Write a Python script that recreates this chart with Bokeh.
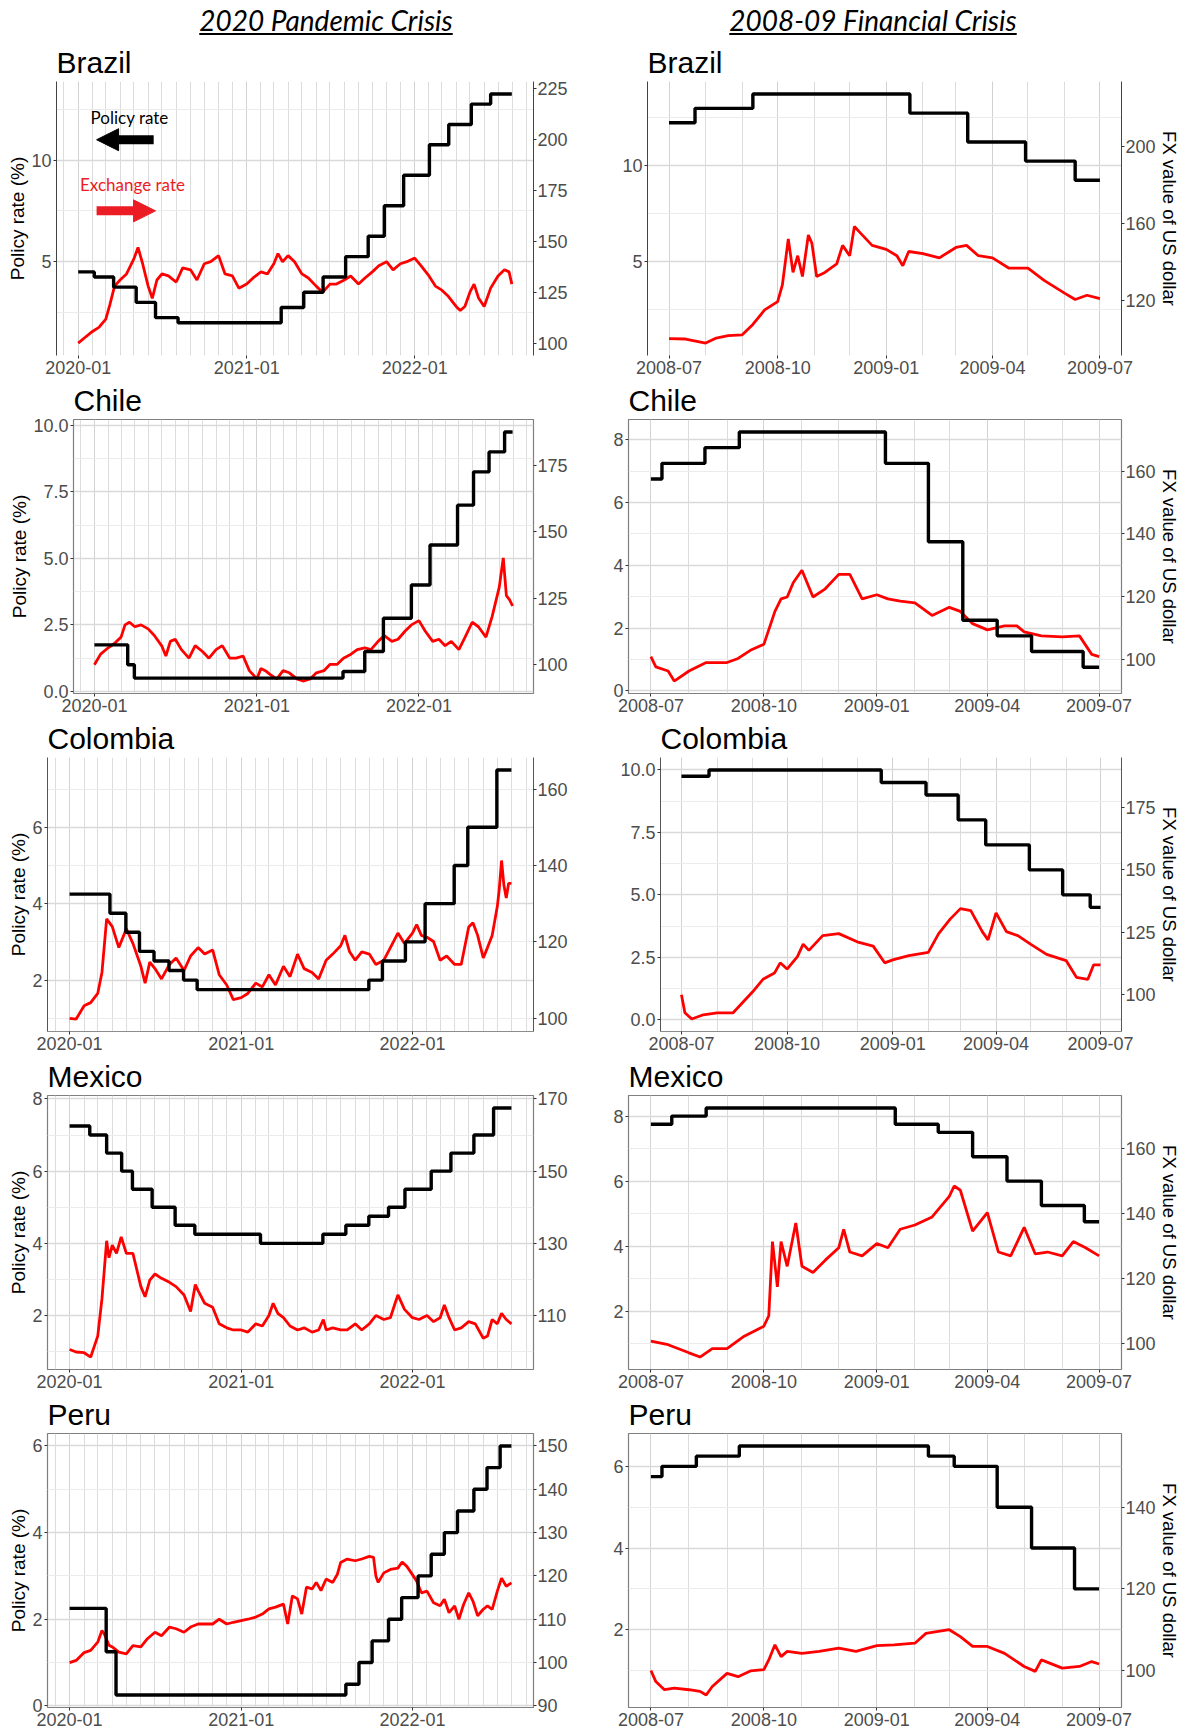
import pandas as pd
from bokeh.plotting import figure
from bokeh.models import (Range1d, LinearAxis, FixedTicker, DatetimeTickFormatter,
                          NumeralTickFormatter, Arrow, NormalHead, Label, Div)
from bokeh.layouts import column, row
from bokeh.embed import file_html
from bokeh.resources import INLINE

# secondary axis: FX index = FX_PER_RATE * policy rate + FX_OFFSET
FX_PER_RATE = 10.0
FX_OFFSET = 90.0

# ======================= 2020 pandemic crisis =======================
brazil_p_pol_dates = ["2020-01-01", "2020-02-05", "2020-03-18", "2020-05-06", "2020-06-17", "2020-08-05",
                      "2021-03-17", "2021-05-05", "2021-06-16", "2021-08-04", "2021-09-22", "2021-10-27",
                      "2021-12-08", "2022-02-02", "2022-03-16", "2022-05-04", "2022-06-15", "2022-07-31"]
brazil_p_pol = [4.5, 4.25, 3.75, 3.0, 2.25, 2.0, 2.75, 3.5, 4.25, 5.25, 6.25, 7.75, 9.25, 10.75, 11.75,
                12.75, 13.25, 13.25]
brazil_p_fx_dates = ["2020-01-01", "2020-01-15", "2020-02-01", "2020-02-15", "2020-03-01", "2020-03-10",
                     "2020-03-20", "2020-04-01", "2020-04-15", "2020-05-01", "2020-05-10", "2020-05-20",
                     "2020-06-01", "2020-06-10", "2020-06-20", "2020-07-01", "2020-07-15", "2020-08-01",
                     "2020-08-15", "2020-09-01", "2020-09-15", "2020-10-01", "2020-10-15", "2020-11-01",
                     "2020-11-15", "2020-12-01", "2020-12-15", "2021-01-01", "2021-01-15", "2021-02-01",
                     "2021-02-15", "2021-03-01", "2021-03-10", "2021-03-20", "2021-04-01", "2021-04-15",
                     "2021-05-01", "2021-05-15", "2021-06-01", "2021-06-15", "2021-07-01", "2021-07-15",
                     "2021-08-01", "2021-08-15", "2021-09-01", "2021-09-15", "2021-10-01", "2021-10-15",
                     "2021-11-01", "2021-11-15", "2021-12-01", "2021-12-15", "2022-01-01", "2022-01-15",
                     "2022-02-01", "2022-02-15", "2022-03-01", "2022-03-15", "2022-04-01", "2022-04-10",
                     "2022-04-20", "2022-05-01", "2022-05-10", "2022-05-20", "2022-06-01", "2022-06-15",
                     "2022-07-01", "2022-07-15", "2022-07-25", "2022-07-31"]
brazil_p_fx = [100, 102.6, 105.7, 107.7, 111.8, 119, 128, 131, 134, 141.4, 147, 139, 128, 122, 131, 134, 133,
               130, 137, 136, 131, 139, 140, 143, 134, 133, 127, 129, 132, 135, 134, 139, 144, 140, 143, 140,
               134, 132, 128, 125, 129, 129, 131, 133, 129, 132, 135, 138, 140, 136, 139, 140, 141.8, 138,
               133, 128, 126, 123, 118, 116, 118, 125, 129, 122, 118, 127, 133, 136, 135, 129]

chile_p_pol_dates = ["2020-01-01", "2020-03-16", "2020-03-31", "2021-07-14", "2021-09-01", "2021-10-13",
                     "2021-12-15", "2022-01-26", "2022-03-29", "2022-05-04", "2022-06-08", "2022-07-13",
                     "2022-07-31"]
chile_p_pol = [1.75, 1.0, 0.5, 0.75, 1.5, 2.75, 4.0, 5.5, 7.0, 8.25, 9.0, 9.75, 9.75]
chile_p_fx_dates = ["2020-01-01", "2020-01-15", "2020-02-01", "2020-02-15", "2020-03-01", "2020-03-10",
                    "2020-03-20", "2020-04-01", "2020-04-15", "2020-05-01", "2020-05-15", "2020-06-01",
                    "2020-06-10", "2020-06-20", "2020-07-01", "2020-07-15", "2020-08-01", "2020-08-15",
                    "2020-09-01", "2020-09-15", "2020-10-01", "2020-10-15", "2020-11-01", "2020-11-15",
                    "2020-12-01", "2020-12-15", "2021-01-01", "2021-01-10", "2021-01-20", "2021-02-01",
                    "2021-02-15", "2021-03-01", "2021-03-15", "2021-04-01", "2021-04-15", "2021-05-01",
                    "2021-05-15", "2021-06-01", "2021-06-15", "2021-07-01", "2021-07-15", "2021-08-01",
                    "2021-08-15", "2021-09-01", "2021-09-15", "2021-10-01", "2021-10-15", "2021-11-01",
                    "2021-11-15", "2021-12-01", "2021-12-15", "2022-01-01", "2022-01-15", "2022-02-01",
                    "2022-02-15", "2022-03-01", "2022-03-15", "2022-04-01", "2022-04-15", "2022-05-01",
                    "2022-05-15", "2022-06-01", "2022-06-15", "2022-07-01", "2022-07-10", "2022-07-17",
                    "2022-07-24", "2022-07-31"]
chile_p_fx = [100, 104, 106.4, 108, 110.4, 115, 116, 114.3, 115, 113.5, 111, 107, 103.3, 108.8, 109.6, 105.7,
              102.5, 107.2, 104.9, 102.5, 105.7, 107.2, 102.5, 102.5, 103.3, 97.8, 94.7, 98.6, 97.8, 96.2,
              94.7, 97.8, 97.0, 94.7, 93.9, 94.7, 97.0, 97.8, 100.2, 100.2, 102.5, 104, 105.7, 106.4, 105.7,
              108.8, 111, 108.8, 109.6, 112.7, 115, 116.6, 112.7, 108.8, 109.6, 107.2, 108.8, 105.7, 110.4,
              116, 114.3, 110.4, 118.2, 129.2, 140.2, 126, 124.5, 122.1]

colombia_p_pol_dates = ["2020-01-01", "2020-03-27", "2020-04-30", "2020-05-29", "2020-06-29", "2020-07-31",
                        "2020-08-31", "2020-09-29", "2021-09-30", "2021-10-29", "2021-12-17", "2022-01-28",
                        "2022-03-31", "2022-04-29", "2022-06-30", "2022-07-31"]
colombia_p_pol = [4.25, 3.75, 3.25, 2.75, 2.5, 2.25, 2.0, 1.75, 2.0, 2.5, 3.0, 4.0, 5.0, 6.0, 7.5, 7.5]
colombia_p_fx_dates = ["2020-01-01", "2020-01-15", "2020-02-01", "2020-02-15", "2020-03-01", "2020-03-10",
                       "2020-03-20", "2020-04-01", "2020-04-15", "2020-05-01", "2020-05-15", "2020-06-01",
                       "2020-06-10", "2020-06-20", "2020-07-01", "2020-07-15", "2020-08-01", "2020-08-15",
                       "2020-09-01", "2020-09-15", "2020-10-01", "2020-10-15", "2020-11-01", "2020-11-15",
                       "2020-12-01", "2020-12-15", "2021-01-01", "2021-01-15", "2021-02-01", "2021-02-15",
                       "2021-03-01", "2021-03-15", "2021-04-01", "2021-04-15", "2021-05-01", "2021-05-15",
                       "2021-06-01", "2021-06-15", "2021-07-01", "2021-07-15", "2021-08-01", "2021-08-10",
                       "2021-08-20", "2021-09-01", "2021-09-15", "2021-10-01", "2021-10-15", "2021-11-01",
                       "2021-11-15", "2021-12-01", "2021-12-15", "2022-01-01", "2022-01-10", "2022-01-20",
                       "2022-02-01", "2022-02-15", "2022-03-01", "2022-03-15", "2022-04-01", "2022-04-15",
                       "2022-05-01", "2022-05-10", "2022-05-20", "2022-06-01", "2022-06-10", "2022-06-20",
                       "2022-07-01", "2022-07-05", "2022-07-10", "2022-07-15", "2022-07-20", "2022-07-25",
                       "2022-07-31"]
colombia_p_fx = [100, 99.8, 103.3, 104.1, 106.5, 112, 126, 124, 118.5, 123.4, 119.6, 113.6, 109.2, 114.7, 113,
                 110.3, 114.1, 115.8, 112.5, 116.3, 118.5, 116.8, 117.9, 111.4, 108.7, 104.9, 105.4, 106.5,
                 109.2, 108.2, 111.4, 108.7, 113.6, 110.9, 116.8, 113, 112, 110.3, 115.2, 116.8, 119, 121.7,
                 117.4, 115.2, 117.4, 116.8, 114.1, 115.2, 118.5, 122.3, 119.6, 122.3, 124.5, 121.7, 121.2,
                 120.1, 115.2, 116.3, 114.1, 114.1, 123.9, 125, 121.7, 115.8, 118.5, 121.7, 129.3, 133.7,
                 141.3, 134.8, 131.5, 135.3, 135.3]

mexico_p_pol_dates = ["2020-01-01", "2020-02-13", "2020-03-20", "2020-04-21", "2020-05-14", "2020-06-25",
                      "2020-08-13", "2020-09-24", "2021-02-11", "2021-06-24", "2021-08-12", "2021-09-30",
                      "2021-11-11", "2021-12-16", "2022-02-10", "2022-03-24", "2022-05-12", "2022-06-23",
                      "2022-07-31"]
mexico_p_pol = [7.25, 7.0, 6.5, 6.0, 5.5, 5.0, 4.5, 4.25, 4.0, 4.25, 4.5, 4.75, 5.0, 5.5, 6.0, 6.5, 7.0, 7.75,
                7.75]
mexico_p_fx_dates = ["2020-01-01", "2020-01-15", "2020-02-01", "2020-02-15", "2020-03-01", "2020-03-10",
                     "2020-03-20", "2020-03-25", "2020-04-01", "2020-04-10", "2020-04-20", "2020-05-01",
                     "2020-05-15", "2020-06-01", "2020-06-10", "2020-06-20", "2020-07-01", "2020-07-15",
                     "2020-08-01", "2020-08-15", "2020-09-01", "2020-09-15", "2020-09-25", "2020-10-01",
                     "2020-10-15", "2020-11-01", "2020-11-15", "2020-12-01", "2020-12-15", "2021-01-01",
                     "2021-01-15", "2021-02-01", "2021-02-15", "2021-03-01", "2021-03-10", "2021-03-20",
                     "2021-04-01", "2021-04-15", "2021-05-01", "2021-05-15", "2021-06-01", "2021-06-15",
                     "2021-06-25", "2021-07-01", "2021-07-15", "2021-08-01", "2021-08-15", "2021-09-01",
                     "2021-09-15", "2021-10-01", "2021-10-15", "2021-11-01", "2021-11-15", "2021-11-25",
                     "2021-12-01", "2021-12-15", "2022-01-01", "2022-01-15", "2022-02-01", "2022-02-15",
                     "2022-03-01", "2022-03-10", "2022-03-20", "2022-04-01", "2022-04-15", "2022-05-01",
                     "2022-05-15", "2022-06-01", "2022-06-10", "2022-06-20", "2022-07-01", "2022-07-10",
                     "2022-07-20", "2022-07-31"]
mexico_p_fx = [100.6, 99.9, 99.7, 98.5, 104.3, 114.6, 130.7, 126, 129.5, 127.2, 131.8, 127.2, 127.2, 118,
               115.2, 119.8, 121.5, 120.3, 119.2, 118, 115.7, 111.1, 118.6, 116.9, 113.4, 112.3, 107.7, 106.6,
               106, 106, 105.4, 107.7, 107.1, 110, 113.4, 110.6, 109.4, 107.1, 106, 106.6, 105.4, 106, 108.9,
               106, 106.6, 106, 106, 107.7, 106, 107.7, 110, 108.9, 109.4, 113.4, 115.7, 111.7, 109.4, 108.9,
               110, 108.3, 109.4, 112.9, 109.4, 106, 106.6, 108.3, 107.7, 103.7, 104.3, 108.9, 107.7, 110.6,
               108.9, 107.7]

peru_p_pol_dates = ["2020-01-01", "2020-03-19", "2020-04-09", "2021-08-12", "2021-09-09", "2021-10-07",
                    "2021-11-11", "2021-12-09", "2022-01-13", "2022-02-10", "2022-03-10", "2022-04-07",
                    "2022-05-12", "2022-06-09", "2022-07-07", "2022-07-31"]
peru_p_pol = [2.25, 1.25, 0.25, 0.5, 1.0, 1.5, 2.0, 2.5, 3.0, 3.5, 4.0, 4.5, 5.0, 5.5, 6.0, 6.0]
peru_p_fx_dates = ["2020-01-01", "2020-01-15", "2020-02-01", "2020-02-15", "2020-03-01", "2020-03-10",
                   "2020-03-15", "2020-03-25", "2020-04-01", "2020-04-15", "2020-05-01", "2020-05-15",
                   "2020-06-01", "2020-06-15", "2020-07-01", "2020-07-15", "2020-08-01", "2020-08-15",
                   "2020-09-01", "2020-09-15", "2020-10-01", "2020-10-15", "2020-11-01", "2020-11-15",
                   "2020-12-01", "2020-12-15", "2021-01-01", "2021-01-15", "2021-02-01", "2021-02-15",
                   "2021-03-01", "2021-03-15", "2021-04-01", "2021-04-10", "2021-04-20", "2021-05-01",
                   "2021-05-10", "2021-05-20", "2021-06-01", "2021-06-10", "2021-06-20", "2021-07-01",
                   "2021-07-15", "2021-07-25", "2021-08-01", "2021-08-15", "2021-09-01", "2021-09-15",
                   "2021-10-01", "2021-10-10", "2021-10-15", "2021-10-20", "2021-11-01", "2021-11-15",
                   "2021-12-01", "2021-12-10", "2021-12-20", "2022-01-01", "2022-01-10", "2022-01-20",
                   "2022-02-01", "2022-02-15", "2022-03-01", "2022-03-10", "2022-03-20", "2022-04-01",
                   "2022-04-10", "2022-04-20", "2022-05-01", "2022-05-10", "2022-05-20", "2022-06-01",
                   "2022-06-10", "2022-06-20", "2022-07-01", "2022-07-10", "2022-07-20", "2022-07-31"]
peru_p_fx = [100, 100.5, 102.3, 102.8, 104.7, 107.4, 106.6, 104, 103.6, 102.4, 102, 103.9, 103.6, 105.5, 107,
             106.2, 108.2, 107.8, 107, 108.2, 108.9, 108.9, 108.9, 110, 108.9, 109.3, 109.7, 110, 110.5, 111.2,
             112.4, 112.8, 113.5, 108.9, 115.4, 114.7, 111.2, 117.4, 117, 118.5, 116.6, 119.3, 118.5, 120.4,
             123.1, 123.9, 123.5, 123.9, 124.5, 124.3, 120, 118.5, 120.7, 121.5, 121.8, 123.2, 122.2, 120.3,
             118.8, 116.1, 116.5, 113.8, 113.1, 114.6, 111.5, 113.1, 110, 113.4, 116.1, 114.2, 110.8, 112.3,
             113.1, 112.3, 116.5, 119.5, 117.6, 118.4]

# ======================= 2008-09 financial crisis =======================
brazil_f_pol_dates = ["2008-07-01", "2008-07-23", "2008-09-10", "2009-01-21", "2009-03-11", "2009-04-29",
                      "2009-06-10", "2009-07-01"]
brazil_f_pol = [12.25, 13.0, 13.75, 12.75, 11.25, 10.25, 9.25, 9.25]
brazil_f_fx_dates = ["2008-07-01", "2008-07-15", "2008-08-01", "2008-08-10", "2008-08-20", "2008-09-01",
                     "2008-09-10", "2008-09-20", "2008-10-01", "2008-10-05", "2008-10-10", "2008-10-14",
                     "2008-10-18", "2008-10-22", "2008-10-27", "2008-10-30", "2008-11-03", "2008-11-10",
                     "2008-11-20", "2008-11-25", "2008-12-01", "2008-12-05", "2008-12-10", "2008-12-20",
                     "2009-01-01", "2009-01-10", "2009-01-15", "2009-01-20", "2009-02-01", "2009-02-15",
                     "2009-03-01", "2009-03-10", "2009-03-20", "2009-04-01", "2009-04-15", "2009-05-01",
                     "2009-05-15", "2009-06-01", "2009-06-10", "2009-06-20", "2009-07-01"]
brazil_f_fx = [100, 99.8, 97.7, 100.3, 101.6, 102, 107.4, 115, 119.3, 128, 151.9, 134.5, 143.2, 132.4, 154,
               149.7, 132.4, 134.5, 138.9, 148.6, 143.2, 158.4, 155.1, 148.6, 146.5, 143.2, 138, 145.4, 144.3,
               142.1, 147.5, 148.6, 143.2, 142.1, 136.7, 136.7, 130.2, 123.7, 120.4, 122.6, 120.9]

chile_f_pol_dates = ["2008-07-01", "2008-07-10", "2008-08-14", "2008-09-11", "2009-01-08", "2009-02-12",
                     "2009-03-12", "2009-04-09", "2009-05-07", "2009-06-18", "2009-07-01"]
chile_f_pol = [6.75, 7.25, 7.75, 8.25, 7.25, 4.75, 2.25, 1.75, 1.25, 0.75, 0.75]
chile_f_fx_dates = ["2008-07-01", "2008-07-05", "2008-07-15", "2008-07-20", "2008-08-01", "2008-08-15",
                    "2008-09-01", "2008-09-10", "2008-09-20", "2008-10-01", "2008-10-10", "2008-10-15",
                    "2008-10-20", "2008-10-25", "2008-11-01", "2008-11-10", "2008-11-20", "2008-12-01",
                    "2008-12-10", "2008-12-20", "2009-01-01", "2009-01-10", "2009-01-20", "2009-02-01",
                    "2009-02-15", "2009-03-01", "2009-03-10", "2009-03-20", "2009-04-01", "2009-04-15",
                    "2009-04-25", "2009-05-01", "2009-05-15", "2009-06-01", "2009-06-15", "2009-06-25",
                    "2009-07-01"]
chile_f_fx = [100.9, 97.6, 96.3, 93.1, 96.3, 99, 99, 100.3, 102.9, 104.8, 115.3, 119.3, 119.9, 124.5, 128.4,
              119.9, 122.5, 127.1, 127.1, 119.3, 120.6, 119.3, 118.6, 118, 114, 116.6, 115.3, 111.4, 109.4,
              110.7, 110.7, 108.8, 107.5, 107.2, 107.5, 101.6, 100.9]

colombia_f_pol_dates = ["2008-07-01", "2008-07-25", "2008-12-22", "2009-01-30", "2009-02-27", "2009-03-23",
                        "2009-04-30", "2009-05-29", "2009-06-22", "2009-07-01"]
colombia_f_pol = [9.75, 10.0, 9.5, 9.0, 8.0, 7.0, 6.0, 5.0, 4.5, 4.5]
colombia_f_fx_dates = ["2008-07-01", "2008-07-04", "2008-07-10", "2008-07-20", "2008-08-01", "2008-08-15",
                       "2008-09-01", "2008-09-10", "2008-09-20", "2008-09-25", "2008-10-01", "2008-10-10",
                       "2008-10-15", "2008-10-20", "2008-11-01", "2008-11-15", "2008-12-01", "2008-12-15",
                       "2008-12-25", "2009-01-01", "2009-01-15", "2009-02-01", "2009-02-10", "2009-02-20",
                       "2009-03-01", "2009-03-10", "2009-03-20", "2009-03-25", "2009-04-01", "2009-04-10",
                       "2009-04-20", "2009-05-01", "2009-05-15", "2009-06-01", "2009-06-10", "2009-06-20",
                       "2009-06-25", "2009-07-01"]
colombia_f_fx = [100, 92.8, 90.3, 92, 92.8, 92.8, 101.2, 106.2, 108.7, 112.8, 110.3, 115.3, 120.3, 117.8,
                 123.7, 124.5, 121.2, 119.5, 112.8, 114, 115.7, 117, 124.5, 130.3, 134.5, 133.7, 125.3, 122,
                 132.8, 125.3, 123.7, 120.3, 116.2, 113.7, 107, 106.2, 112, 112]

mexico_f_pol_dates = ["2008-07-01", "2008-07-18", "2008-08-15", "2009-01-16", "2009-02-20", "2009-03-20",
                      "2009-04-17", "2009-05-15", "2009-06-19", "2009-07-01"]
mexico_f_pol = [7.75, 8.0, 8.25, 7.75, 7.5, 6.75, 6.0, 5.25, 4.75, 4.75]
mexico_f_fx_dates = ["2008-07-01", "2008-07-15", "2008-08-01", "2008-08-10", "2008-08-20", "2008-09-01",
                     "2008-09-15", "2008-10-01", "2008-10-05", "2008-10-08", "2008-10-12", "2008-10-15",
                     "2008-10-20", "2008-10-27", "2008-11-01", "2008-11-10", "2008-11-20", "2008-12-01",
                     "2008-12-05", "2008-12-10", "2008-12-20", "2009-01-01", "2009-01-10", "2009-01-20",
                     "2009-02-01", "2009-02-15", "2009-03-01", "2009-03-05", "2009-03-10", "2009-03-20",
                     "2009-04-01", "2009-04-10", "2009-04-20", "2009-05-01", "2009-05-10", "2009-05-20",
                     "2009-06-01", "2009-06-10", "2009-06-20", "2009-07-01"]
mexico_f_fx = [100.8, 99.7, 97.2, 95.9, 98.5, 98.5, 102.3, 105.4, 108.6, 131.4, 117.5, 131.4, 123.8, 137.1,
               123.8, 121.9, 125.7, 129.5, 135.2, 128.2, 127, 130.8, 129.5, 135.2, 136.5, 139, 145.3, 148.5,
               147.2, 134.6, 140.3, 128.2, 127, 135.8, 127.6, 128.2, 127, 131.4, 129.5, 127]

peru_f_pol_dates = ["2008-07-01", "2008-07-10", "2008-08-07", "2008-09-11", "2009-02-12", "2009-03-05",
                    "2009-04-09", "2009-05-07", "2009-06-11", "2009-07-01"]
peru_f_pol = [5.75, 6.0, 6.25, 6.5, 6.25, 6.0, 5.0, 4.0, 3.0, 3.0]
peru_f_fx_dates = ["2008-07-01", "2008-07-05", "2008-07-12", "2008-07-20", "2008-08-01", "2008-08-10",
                   "2008-08-15", "2008-08-20", "2008-09-01", "2008-09-10", "2008-09-20", "2008-10-01",
                   "2008-10-05", "2008-10-10", "2008-10-15", "2008-10-20", "2008-11-01", "2008-11-15",
                   "2008-12-01", "2008-12-15", "2009-01-01", "2009-01-15", "2009-02-01", "2009-02-10",
                   "2009-02-20", "2009-03-01", "2009-03-10", "2009-03-20", "2009-04-01", "2009-04-15",
                   "2009-05-01", "2009-05-10", "2009-05-15", "2009-06-01", "2009-06-15", "2009-06-25",
                   "2009-07-01"]
peru_f_fx = [100, 97.3, 95.3, 95.7, 95.3, 94.9, 94, 96.1, 99.3, 98.5, 99.9, 100.2, 102.6, 106.3, 103.4, 104.7,
             104.2, 104.7, 105.5, 104.7, 106.1, 106.3, 106.7, 109.1, 109.6, 110, 108.3, 105.9, 105.9, 104.2,
             101, 99.8, 102.6, 100.6, 101, 102.2, 101.6]

# x-axis ticks
pandemic_major = ["2020-01-01", "2021-01-01", "2022-01-01"]
pandemic_minor = [f"{y}-{m:02d}-01" for y in (2019, 2020, 2021, 2022) for m in range(1, 13)]
financial_major = ["2008-07-01", "2008-10-01", "2009-01-01", "2009-04-01", "2009-07-01"]
financial_minor = [f"{y}-{m:02d}-01" for y in (2008, 2009) for m in range(1, 13)]

countries = ["Brazil", "Chile", "Colombia", "Mexico", "Peru"]
col_titles = ["2020 Pandemic Crisis", "2008-09 Financial Crisis"]

FONT = "Liberation Sans"
HEADER_H = 42
ROW_H = 338
LAST_ROW_H = 335
TOP = 39
FRAME_H = 274
LEFT_W = 593
RIGHT_W = 589


def ms(d):
    return pd.Timestamp(d).value / 1e6


def make_panel(title, pol_d, pol_v, fx_d, fx_v, left_ticks, left_minor, right_ticks, left_fmt,
               side, row_i, border_left, style, major_x, minor_x):
    pdates = pd.to_datetime(pol_d)
    fdates = pd.to_datetime(fx_d)
    x0 = min(pdates.min(), fdates.min())
    x1 = max(pdates.max(), fdates.max())
    xpad = (x1 - x0) * 0.05
    lo = min(min(pol_v), (min(fx_v) - FX_OFFSET) / FX_PER_RATE)
    hi = max(max(pol_v), (max(fx_v) - FX_OFFSET) / FX_PER_RATE)
    ypad = (hi - lo) * 0.05
    y0, y1 = lo - ypad, hi + ypad

    h = ROW_H if row_i < 4 else LAST_ROW_H
    w = LEFT_W if side == "L" else RIGHT_W
    p = figure(width=w, height=h, x_axis_type="datetime",
               x_range=Range1d(x0 - xpad, x1 + xpad), y_range=Range1d(y0, y1),
               toolbar_location=None, output_backend="svg", title=title,
               min_border_left=border_left, min_border_right=(60 if side == "L" else 59),
               min_border_top=TOP, min_border_bottom=max(h - TOP - FRAME_H, 20))
    p.extra_y_ranges = {"fx": Range1d(FX_PER_RATE * y0 + FX_OFFSET, FX_PER_RATE * y1 + FX_OFFSET)}

    p.line(fdates, fx_v, y_range_name="fx", line_color="#ff0000", line_width=2.8)
    p.step(pdates, pol_v, mode="after", line_color="black", line_width=3.4)

    left = p.left[0]
    left.ticker = FixedTicker(ticks=left_ticks, minor_ticks=left_minor)
    left.formatter = NumeralTickFormatter(format=left_fmt)
    rax = LinearAxis(y_range_name="fx", ticker=FixedTicker(ticks=right_ticks),
                     formatter=NumeralTickFormatter(format="0"))
    p.add_layout(rax, "right")

    bx = p.below[0]
    bx.ticker = FixedTicker(ticks=[ms(d) for d in major_x], minor_ticks=[ms(d) for d in minor_x])
    fmt = "%Y-%m"
    bx.formatter = DatetimeTickFormatter(microseconds=fmt, milliseconds=fmt, seconds=fmt, minsec=fmt,
                                         minutes=fmt, hourmin=fmt, hours=fmt, days=fmt, months=fmt,
                                         years=fmt)

    for ax in (left, rax, bx):
        ax.major_label_text_font = FONT
        ax.major_label_text_font_size = "18px"
        ax.major_label_text_color = "#4d4d4d"
        ax.major_label_standoff = 1
        ax.major_tick_in = 0
        ax.major_tick_out = 3
        ax.major_tick_line_color = "#333333"
        ax.minor_tick_line_color = None
        ax.axis_label_text_font = FONT
        ax.axis_label_text_font_style = "normal"
        ax.axis_label_text_color = "black"
        ax.axis_label_standoff = 0
    if side == "L":
        left.axis_label = "Policy rate (%)"
        left.axis_label_text_font_size = "19px"
    else:
        rax.axis_label = "FX value of US dollar"
        rax.axis_label_text_font_size = "18.5px"

    p.xgrid.grid_line_color = "#d2d2d2"
    p.xgrid.minor_grid_line_color = "#dcdcdc"
    p.ygrid.grid_line_color = "#d9d9d9"
    p.ygrid.grid_line_width = 1.3
    p.ygrid.minor_grid_line_color = "#ebebeb"

    if style == "axes":          # only vertical axis lines
        p.outline_line_color = None
        left.axis_line_color = "#444444"
        rax.axis_line_color = "#444444"
        bx.axis_line_color = None
    elif style == "open_top":
        p.outline_line_color = None
        left.axis_line_color = "#555555"
        rax.axis_line_color = "#555555"
        bx.axis_line_color = "#8c8c8c"
    else:                        # full box
        p.outline_line_color = "#7f7f7f"
        p.outline_line_width = 1.2
        for ax in (left, rax, bx):
            ax.axis_line_color = None

    p.title.text_font = FONT
    p.title.text_font_size = "30px"
    p.title.text_font_style = "normal"
    p.title.text_color = "black"
    p.title.align = "left"
    p.title.offset = 0
    p.title.standoff = 2
    p.title.vertical_align = "top"
    return p


pandemic_specs = [
    (brazil_p_pol_dates, brazil_p_pol, brazil_p_fx_dates, brazil_p_fx, [5, 10], [2.5, 7.5, 12.5],
     [100, 125, 150, 175, 200, 225], "0", 56, "axes"),
    (chile_p_pol_dates, chile_p_pol, chile_p_fx_dates, chile_p_fx, [0, 2.5, 5, 7.5, 10],
     [1.25, 3.75, 6.25, 8.75], [100, 125, 150, 175], "0.0", 73, "box"),
    (colombia_p_pol_dates, colombia_p_pol, colombia_p_fx_dates, colombia_p_fx, [2, 4, 6], [1, 3, 5, 7],
     [100, 120, 140, 160], "0", 47, "open_top"),
    (mexico_p_pol_dates, mexico_p_pol, mexico_p_fx_dates, mexico_p_fx, [2, 4, 6, 8], [1, 3, 5, 7],
     [110, 130, 150, 170], "0", 47, "box"),
    (peru_p_pol_dates, peru_p_pol, peru_p_fx_dates, peru_p_fx, [0, 2, 4, 6], [1, 3, 5],
     [90, 100, 110, 120, 130, 140, 150], "0", 47, "box"),
]
financial_specs = [
    (brazil_f_pol_dates, brazil_f_pol, brazil_f_fx_dates, brazil_f_fx, [5, 10], [2.5, 7.5, 12.5],
     [120, 160, 200], "0", 54, "axes"),
    (chile_f_pol_dates, chile_f_pol, chile_f_fx_dates, chile_f_fx, [0, 2, 4, 6, 8], [1, 3, 5, 7],
     [100, 120, 140, 160], "0", 35, "box"),
    (colombia_f_pol_dates, colombia_f_pol, colombia_f_fx_dates, colombia_f_fx, [0, 2.5, 5, 7.5, 10],
     [1.25, 3.75, 6.25, 8.75], [100, 125, 150, 175], "0.0", 67, "open_top"),
    (mexico_f_pol_dates, mexico_f_pol, mexico_f_fx_dates, mexico_f_fx, [2, 4, 6, 8], [1, 3, 5, 7],
     [100, 120, 140, 160], "0", 35, "box"),
    (peru_f_pol_dates, peru_f_pol, peru_f_fx_dates, peru_f_fx, [2, 4, 6], [1, 3, 5],
     [100, 120, 140], "0", 35, "box"),
]

rows = []
for i, name in enumerate(countries):
    a = pandemic_specs[i]
    b = financial_specs[i]
    lp = make_panel(name, a[0], a[1], a[2], a[3], a[4], a[5], a[6], a[7], "L", i, a[8], a[9],
                    pandemic_major, pandemic_minor)
    rp = make_panel(name, b[0], b[1], b[2], b[3], b[4], b[5], b[6], b[7], "R", i, b[8], b[9],
                    financial_major, financial_minor)
    if i == 0:
        # legend-like annotations in the Brazil pandemic panel
        lp.add_layout(Label(x=ms("2020-01-28"), y=12.1, text="Policy rate", text_font="Lato",
                            text_font_size="17px", text_color="black", text_baseline="middle"))
        lp.add_layout(Arrow(end=NormalHead(size=22, fill_color="black", line_color="black"),
                            x_start=ms("2020-06-13"), y_start=11.0, x_end=ms("2020-02-10"), y_end=11.0,
                            line_color="black", line_width=9))
        lp.add_layout(Label(x=ms("2020-01-05"), y=8.8, text="Exchange rate", text_font="Lato",
                            text_font_size="17px", text_color="#ec1c24", text_baseline="middle"))
        lp.add_layout(Arrow(end=NormalHead(size=22, fill_color="#ec1c24", line_color="#ec1c24"),
                            x_start=ms("2020-02-10"), y_start=7.5, x_end=ms("2020-06-17"), y_end=7.5,
                            line_color="#ec1c24", line_width=9))
    rows.append(row(lp, rp))

header_html = (
    f'<div style="position:relative;width:1182px;height:{HEADER_H}px;font-family:Lato;font-style:italic;'
    'font-size:28px;color:black;">'
    f'<span style="position:absolute;left:326px;top:0px;transform:translateX(-50%);'
    f'text-decoration:underline;white-space:nowrap;">{col_titles[0]}</span>'
    f'<span style="position:absolute;left:873px;top:0px;transform:translateX(-50%);'
    f'text-decoration:underline;white-space:nowrap;">{col_titles[1]}</span>'
    '</div>'
)
header = Div(text=header_html, width=1182, height=HEADER_H, margin=0)

layout = column(header, *rows)
open("out.html", "w").write(file_html(layout, INLINE))
